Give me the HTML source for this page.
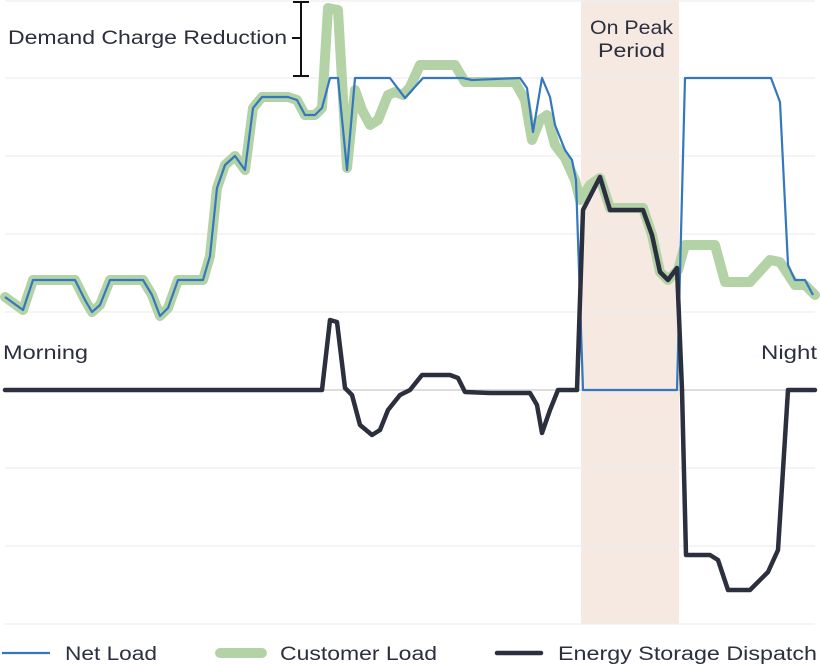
<!DOCTYPE html><html><head><style>body{margin:0;background:#fff}svg{display:block}text{font-family:"Liberation Sans",sans-serif;fill:#2b2f3e}</style></head><body>
<svg width="820" height="665" viewBox="0 0 820 665">
<rect x="581" y="0" width="98" height="624" fill="#f5e9e2"/>
<g stroke="#eeeeee" stroke-width="1.2">
<line x1="5" x2="815" y1="1" y2="1"/><line x1="5" x2="815" y1="78" y2="78"/><line x1="5" x2="815" y1="156" y2="156"/><line x1="5" x2="815" y1="234" y2="234"/><line x1="5" x2="815" y1="312" y2="312"/><line x1="5" x2="815" y1="468" y2="468"/><line x1="5" x2="815" y1="546" y2="546"/><line x1="5" x2="815" y1="624" y2="624"/></g>
<line x1="5" x2="815" y1="390" y2="390" stroke="#dddddd" stroke-width="2"/>
<polyline fill="none" stroke="#b3d3a6" stroke-width="10" stroke-linejoin="round" stroke-linecap="round" points="5,297 23,310 33,280 75,280 85,300 92,312 100,305 110,280 143,280 152,295 160,316 168,308 178,280 203,280 210,256 217,188 225,165 235,156 245,170 253,108 262,97 288,97 297,100 305,115 315,115 322,108 328,8 338,10 347,168 355,90 362,110 370,125 378,120 388,95 395,92 403,95 410,87 420,65 455,65 465,82 515,82 525,100 532,140 540,120 547,115 555,145 565,158 575,180 580,200 590,185 600,178 610,208 643,208 652,235 660,272 668,280 678,270 685,245 715,245 725,282 750,282 770,260 780,262 795,285 805,285 815,295"/>
<polyline fill="none" stroke="#3477bf" stroke-width="2.2" stroke-linejoin="round" points="5,297 23,310 33,280 75,280 85,300 92,312 100,305 110,280 143,280 152,295 160,316 168,308 178,280 203,280 210,256 217,188 225,165 235,156 245,170 253,108 262,97 288,97 297,100 305,115 315,115 322,108 330,78 338,78 347,170 355,78 390,78 405,98 423,78 463,78 472,80 520,78 527,88 533,132 542,78 550,97 555,125 565,150 572,160 576,180 583,390 677,390 685,78 771,78 780,102 788,265 795,280 805,280 813,295"/>
<polyline fill="none" stroke="#2b2f3e" stroke-width="4.5" stroke-linejoin="round" stroke-linecap="round" points="5,390 322,390 330,320 337,322 345,388 352,395 360,425 372,435 380,430 388,410 400,395 410,390 422,375 450,375 458,378 465,392 490,393 530,393 537,405 542,433 550,410 558,390 577,390 583,210 600,177 610,210 643,210 652,235 660,272 668,280 677,268 682,390 686,555 710,555 718,560 728,590 750,590 768,572 778,550 788,390 815,390"/>
<g stroke="#111" stroke-width="2"><line x1="301" x2="301" y1="2" y2="76"/><line x1="293" x2="309" y1="2" y2="2"/><line x1="293" x2="309" y1="76" y2="76"/><line x1="292" x2="301" y1="38" y2="38"/></g>
<text x="8" y="44" font-size="19" textLength="279" lengthAdjust="spacingAndGlyphs">Demand Charge Reduction</text>
<text x="590" y="34" font-size="19" textLength="83" lengthAdjust="spacingAndGlyphs">On Peak</text>
<text x="598" y="57" font-size="19" textLength="67" lengthAdjust="spacingAndGlyphs">Period</text>
<text x="3" y="359" font-size="19" textLength="85" lengthAdjust="spacingAndGlyphs">Morning</text>
<text x="761" y="359" font-size="19" textLength="56" lengthAdjust="spacingAndGlyphs">Night</text>
<line x1="2" x2="50" y1="653" y2="653" stroke="#3477bf" stroke-width="2.2"/>
<text x="65" y="660" font-size="19" textLength="92" lengthAdjust="spacingAndGlyphs">Net Load</text>
<line x1="220" x2="262" y1="653" y2="653" stroke="#b3d3a6" stroke-width="10" stroke-linecap="round"/>
<text x="280" y="660" font-size="19" textLength="157" lengthAdjust="spacingAndGlyphs">Customer Load</text>
<line x1="497" x2="541" y1="653" y2="653" stroke="#2b2f3e" stroke-width="4.5" stroke-linecap="round"/>
<text x="558" y="660" font-size="19" textLength="259" lengthAdjust="spacingAndGlyphs">Energy Storage Dispatch</text>
</svg></body></html>
